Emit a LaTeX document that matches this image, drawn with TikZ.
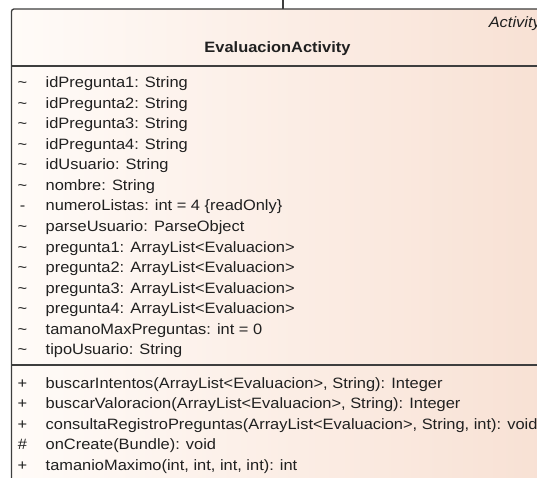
\documentclass[tikz,border=0pt]{standalone}
\usepackage{fontspec}
\setmainfont{Liberation Sans}[FakeStretch=1.095]
\usetikzlibrary{positioning}
\definecolor{eaBorder}{HTML}{3E3E3E}
\definecolor{eaText}{HTML}{202020}
\definecolor{fillLeft}{HTML}{FFFBF8}
\definecolor{fillRight}{HTML}{F8E1D4}

\begin{document}
\begin{tikzpicture}[x=1pt, y=-1pt,
  font=\fontsize{15}{18}\selectfont,
  member/.style={anchor=base west, inner sep=0pt, text=eaText},
  vis/.style={anchor=base, inner sep=0pt, text=eaText},
  divider/.style={draw=eaBorder, line width=1.3pt}]
\useasboundingbox (0,0) rectangle (537,478);
\clip (0,0) rectangle (537,478);
% class box, runs off the right and bottom edge
\draw[divider, rounded corners=2.5pt, left color=fillLeft, right color=fillRight]
  (11.5,9) rectangle (544,520);
\coordinate (top) at (283,9);
\coordinate (up) at (283,-2);
\draw[divider] (up) -- (top);
\node[anchor=base east, inner sep=0pt, text=eaText, font=\fontsize{15}{18}\itshape] (stereo) at (541,28) {Activity};
\node[vis, font=\fontsize{15}{18}\bfseries] (title) at (277.5,52.7) {EvaluacionActivity};
\draw[divider] (11.5,66) -- (544,66);
% attributes
\foreach \v/\t [count=\i from 0] in {
  \textasciitilde/{idPregunta1: String},
  \textasciitilde/{idPregunta2: String},
  \textasciitilde/{idPregunta3: String},
  \textasciitilde/{idPregunta4: String},
  \textasciitilde/{idUsuario: String},
  \textasciitilde/{nombre: String},
  -/{numeroListas: int = 4 \{readOnly\}},
  \textasciitilde/{parseUsuario: ParseObject},
  \textasciitilde/{pregunta1: ArrayList<Evaluacion>},
  \textasciitilde/{pregunta2: ArrayList<Evaluacion>},
  \textasciitilde/{pregunta3: ArrayList<Evaluacion>},
  \textasciitilde/{pregunta4: ArrayList<Evaluacion>},
  \textasciitilde/{tamanoMaxPreguntas: int = 0},
  \textasciitilde/{tipoUsuario: String}}
{
  \node[vis] (attv\i) at (22.5,{88+20.5*\i}) {\v};
  \node[member] (att\i) at (45.5,{88+20.5*\i}) {\t};
}
\draw[divider] (11.5,365) -- (544,365);
% operations
\foreach \v/\t [count=\i from 0] in {
  +/{buscarIntentos(ArrayList<Evaluacion>, String): Integer},
  +/{buscarValoracion(ArrayList<Evaluacion>, String): Integer},
  +/{consultaRegistroPreguntas(ArrayList<Evaluacion>, String, int): void},
  \#/{onCreate(Bundle): void},
  +/{tamanioMaximo(int, int, int, int): int}}
{
  \node[vis] (opv\i) at (22.5,{388+20.5*\i}) {\v};
  \node[member] (op\i) at (45.5,{388+20.5*\i}) {\t};
}
\end{tikzpicture}
\end{document}
